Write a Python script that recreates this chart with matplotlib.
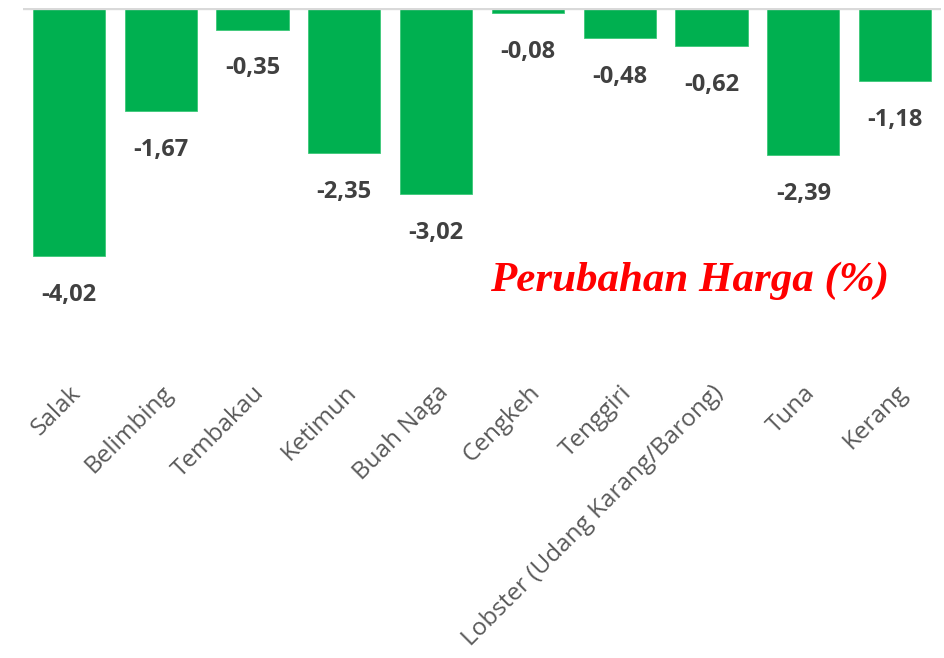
import matplotlib.pyplot as plt

categories = ["Salak", "Belimbing", "Tembakau", "Ketimun", "Buah Naga",
              "Cengkeh", "Tenggiri", "Lobster (Udang Karang/Barong)", "Tuna", "Kerang"]
values = [-4.02, -1.67, -0.35, -2.35, -3.02, -0.08, -0.48, -0.62, -2.39, -1.18]
labels = ["-4,02", "-1,67", "-0,35", "-2,35", "-3,02",
          "-0,08", "-0,48", "-0,62", "-2,39", "-1,18"]

plt.rcParams["font.family"] = ["Open Sans", "DejaVu Sans"]

fig = plt.figure(figsize=(9.45, 6.58), dpi=100)
ax = fig.add_axes([0.0243, 0.4255, 0.9715, 0.5623])

x = range(len(categories))
ax.bar(x, values, width=0.785, color="#00B050", edgecolor="#3CC878", linewidth=0.6, zorder=2)
ax.axhline(0, color="#D9D9D9", linewidth=2.4, zorder=3)

for xi, v, lab in zip(x, values, labels):
    ax.annotate(lab, (xi, v), xytext=(0, -28), textcoords="offset points",
                ha="center", va="center", fontsize=17, fontweight="bold",
                color="#404040")

ax.set_xlim(-0.5, 9.5)
ax.set_ylim(-6, 0)
ax.set_xticks(list(x))
ax.set_xticklabels(categories, rotation=45, ha="right", rotation_mode="anchor",
                   fontsize=17.5, color="#595959")
ax.tick_params(axis="x", length=0, pad=2)
ax.set_yticks([])
for s in ax.spines.values():
    s.set_visible(False)

fig.text(0.730, 0.574, "Perubahan Harga (%)", color="#FF0000", fontsize=31,
         fontweight="bold", fontstyle="italic", family="Liberation Serif",
         ha="center", va="center")

fig.savefig("out.png", dpi=100)
